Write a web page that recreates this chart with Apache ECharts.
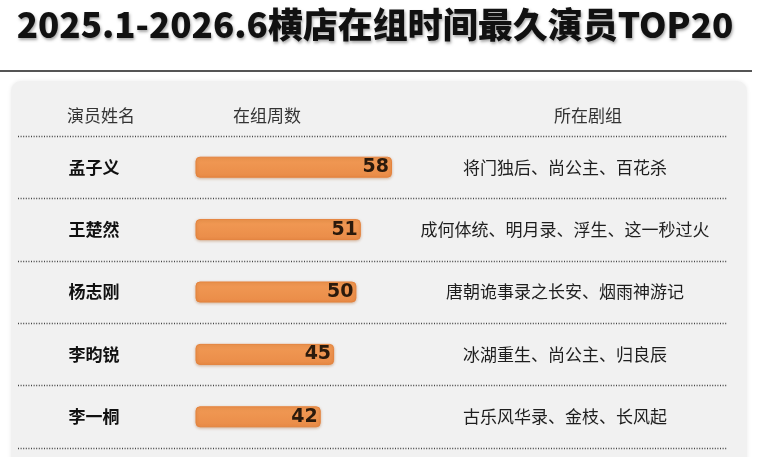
<!DOCTYPE html>
<html><head><meta charset="utf-8">
<script src="https://cdn.jsdelivr.net/npm/echarts@6/dist/echarts.min.js"></script>
<style>html,body{margin:0;padding:0;background:#fff}#c{width:758px;height:457px}</style>
</head><body><div id="c"></div>
<script>
const titleText = '2025.1-2026.6横店在组时间最久演员TOP20';
const headers = ['演员姓名', '在组周数', '所在剧组'];
const actors = ['孟子义', '王楚然', '杨志刚', '李昀锐', '李一桐'];
const weeks = [58, 51, 50, 45, 42];
const dramas = ['将门独后、尚公主、百花杀', '成何体统、明月录、浮生、这一秒过火', '唐朝诡事录之长安、烟雨神游记', '冰湖重生、尚公主、归良辰', '古乐风华录、金枝、长风起'];

const CJK = '"Noto Sans CJK SC", "Noto Sans", sans-serif';
const chart = echarts.init(document.getElementById('c'));
chart.setOption({
  backgroundColor: '#ffffff',
  animation: false,
  graphic: [
    { type: 'line', shape: { x1: 0, y1: 71, x2: 752, y2: 71 }, style: { stroke: '#555', lineWidth: 2 }, z: 0 },
    { type: 'rect', shape: { x: 11, y: 81, width: 736, height: 400, r: 10 }, style: { fill: '#f1f1f1', shadowBlur: 4, shadowColor: 'rgba(0,0,0,0.08)' }, z: -1 }
  ],
  title: [
    { text: titleText, left: 370, top: 2, textAlign: 'center',
      textStyle: { fontFamily: CJK, fontSize: 35, fontWeight: 900, color: '#111',
        textShadowColor: 'rgba(0,0,0,0.35)', textShadowBlur: 3, textShadowOffsetX: 1, textShadowOffsetY: 2 } },
    { text: headers[0], left: 96, top: 102, textAlign: 'center', textStyle: { fontFamily: CJK, fontSize: 17, fontWeight: 'normal', color: '#333' } },
    { text: headers[1], left: 262, top: 102, textAlign: 'center', textStyle: { fontFamily: CJK, fontSize: 17, fontWeight: 'normal', color: '#333' } },
    { text: headers[2], left: 583, top: 102, textAlign: 'center', textStyle: { fontFamily: CJK, fontSize: 17, fontWeight: 'normal', color: '#333' } }
  ],
  grid: [
    { left: 18, right: 31, top: 136, height: 312 },
    { left: 196, right: 366, top: 136, height: 312 }
  ],
  xAxis: [
    { gridIndex: 0, type: 'value', show: false, min: 0, max: 1 },
    { gridIndex: 1, type: 'value', show: false, min: 14, max: 58 }
  ],
  yAxis: [
    { gridIndex: 0, type: 'category', data: dramas, inverse: true,
      axisLine: { show: false }, axisTick: { show: false },
      axisLabel: { margin: -547, align: 'center', fontFamily: CJK, fontSize: 17, color: '#1e1e1e' },
      splitLine: { show: true, lineStyle: { type: [1, 1.6], color: '#444', width: 1.3 } } },
    { gridIndex: 1, type: 'category', data: actors, inverse: true,
      axisLine: { show: false }, axisTick: { show: false },
      axisLabel: { margin: 102, align: 'center', fontFamily: CJK, fontSize: 17, fontWeight: 'bold', color: '#111' } }
  ],
  series: [{
    type: 'bar', xAxisIndex: 1, yAxisIndex: 1, data: weeks, barWidth: 21,
    itemStyle: {
      color: new echarts.graphic.LinearGradient(0, 0, 0, 1, [
        { offset: 0, color: '#f19a55' }, { offset: 1, color: '#ea8c48' }]),
      borderRadius: 4, borderColor: '#e5833d', borderWidth: 1,
      shadowBlur: 3, shadowColor: 'rgba(160,80,20,0.35)', shadowOffsetY: 1
    },
    label: { show: true, position: 'insideRight', distance: 3, fontFamily: '"DejaVu Sans", sans-serif',
      fontSize: 19, fontWeight: 'bold', color: '#2b1a0c' }
  }]
});
</script></body></html>
